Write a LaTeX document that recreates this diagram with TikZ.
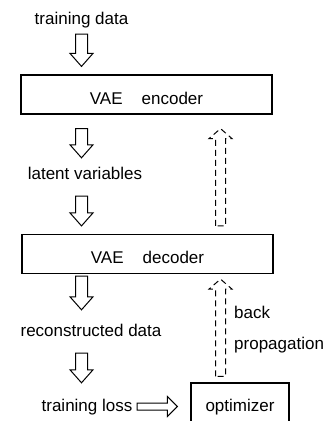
\documentclass[tikz,border=0pt]{standalone}
\usepackage{fontspec}
\setmainfont{Liberation Sans}
\usetikzlibrary{calc}

\begin{document}
\begin{tikzpicture}[x=1pt, y=-1pt,
  lbl/.style={inner sep=0pt, text height=12.5pt, text depth=3.5pt, font=\fontsize{17}{20}\selectfont},
  vaebox/.style={draw, line width=1.2pt, minimum width=251pt, minimum height=39pt, inner sep=0pt,
    text height=19.5pt, text depth=0pt, font=\fontsize{17}{20}\selectfont},
  optbox/.style={draw, line width=1.2pt, minimum width=98pt, minimum height=48pt, inner sep=0pt,
    text height=12.5pt, text depth=3.5pt, font=\fontsize{17}{20}\selectfont},
  blockline/.style={draw, line width=1pt, line join=miter},
  downblock/.style={blockline, to path={let \p1=(\tikztostart), \p2=(\tikztotarget) in
    (\x1-6pt,\y1) -- (\x1-6pt,\y2+13pt) -- (\x1-11.5pt,\y2+13pt) -- (\x1,\y2)
    -- (\x1+11.5pt,\y2+13pt) -- (\x1+6pt,\y2+13pt) -- (\x1+6pt,\y1) -- cycle}},
  upblock/.style={blockline, dash pattern=on 6pt off 4pt, to path={let \p1=(\tikztostart), \p2=(\tikztotarget) in
    (\x1-5pt,\y1) -- (\x1-5pt,\y2-10pt) -- (\x1-11.5pt,\y2-10pt) -- (\x1,\y2)
    -- (\x1+11.5pt,\y2-10pt) -- (\x1+5pt,\y2-10pt) -- (\x1+5pt,\y1) -- cycle}},
  rightblock/.style={blockline, to path={let \p1=(\tikztostart), \p2=(\tikztotarget) in
    (\x1,\y1-3.5pt) -- (\x2-10pt,\y1-3.5pt) -- (\x2-10pt,\y1-10pt) -- (\x2,\y1)
    -- (\x2-10pt,\y1+10pt) -- (\x2-10pt,\y1+3.5pt) -- (\x1,\y1+3.5pt) -- cycle}}]

  \useasboundingbox (0,0) rectangle (323,421);
  \clip (0,0) rectangle (323,421);

  % columns for the block arrows
  \coordinate (col)  at (81.5,0);
  \coordinate (bcol) at (220.5,0);

  \node[lbl]    (tdata)  at (81.5,19.5) {training data};
  \node[vaebox] (enc)    at (146.5,94.5) {VAE\hspace{19pt}encoder};
  \node[lbl]    (latent) at (85,174.5) {latent variables};
  \node[vaebox] (dec)    at (147.5,254) {VAE\hspace{19pt}decoder};
  \node[lbl]    (recon)  at (91,331.5) {reconstructed data};
  \node[lbl]    (loss)   at (87,406.5) {training loss};
  \node[optbox] (opt)    at (240,407) {optimizer};
  \node[lbl, anchor=base west] (back) at (234,318) {back};
  \node[lbl, anchor=base west] (prop) at (234,349) {propagation};

  % forward pass
  \draw[downblock] ([yshift=-6.5pt]tdata.south -| col) to ([yshift=8pt]enc.north -| col);
  \draw[downblock] ([yshift=-14pt]enc.south -| col) to ([yshift=8.5pt]latent.north -| col);
  \draw[downblock] ([yshift=-13.5pt]latent.south -| col) to ([yshift=8pt]dec.north -| col);
  \draw[downblock] ([yshift=-2pt]dec.south -| col) to ([yshift=13.5pt]recon.north -| col);
  \draw[downblock] ([yshift=-13.5pt]recon.south -| col) to ([yshift=15.5pt]loss.north -| col);

  % loss -> optimizer
  \draw[rightblock] ([xshift=4.5pt]loss.east) to ([xshift=-13pt]opt.west);

  % back propagation
  \draw[upblock] ([yshift=6pt]opt.north -| bcol) to ([yshift=-5pt]dec.south -| bcol);
  \draw[upblock] ([yshift=8pt]dec.north -| bcol) to ([yshift=-14pt]enc.south -| bcol);
\end{tikzpicture}
\end{document}
